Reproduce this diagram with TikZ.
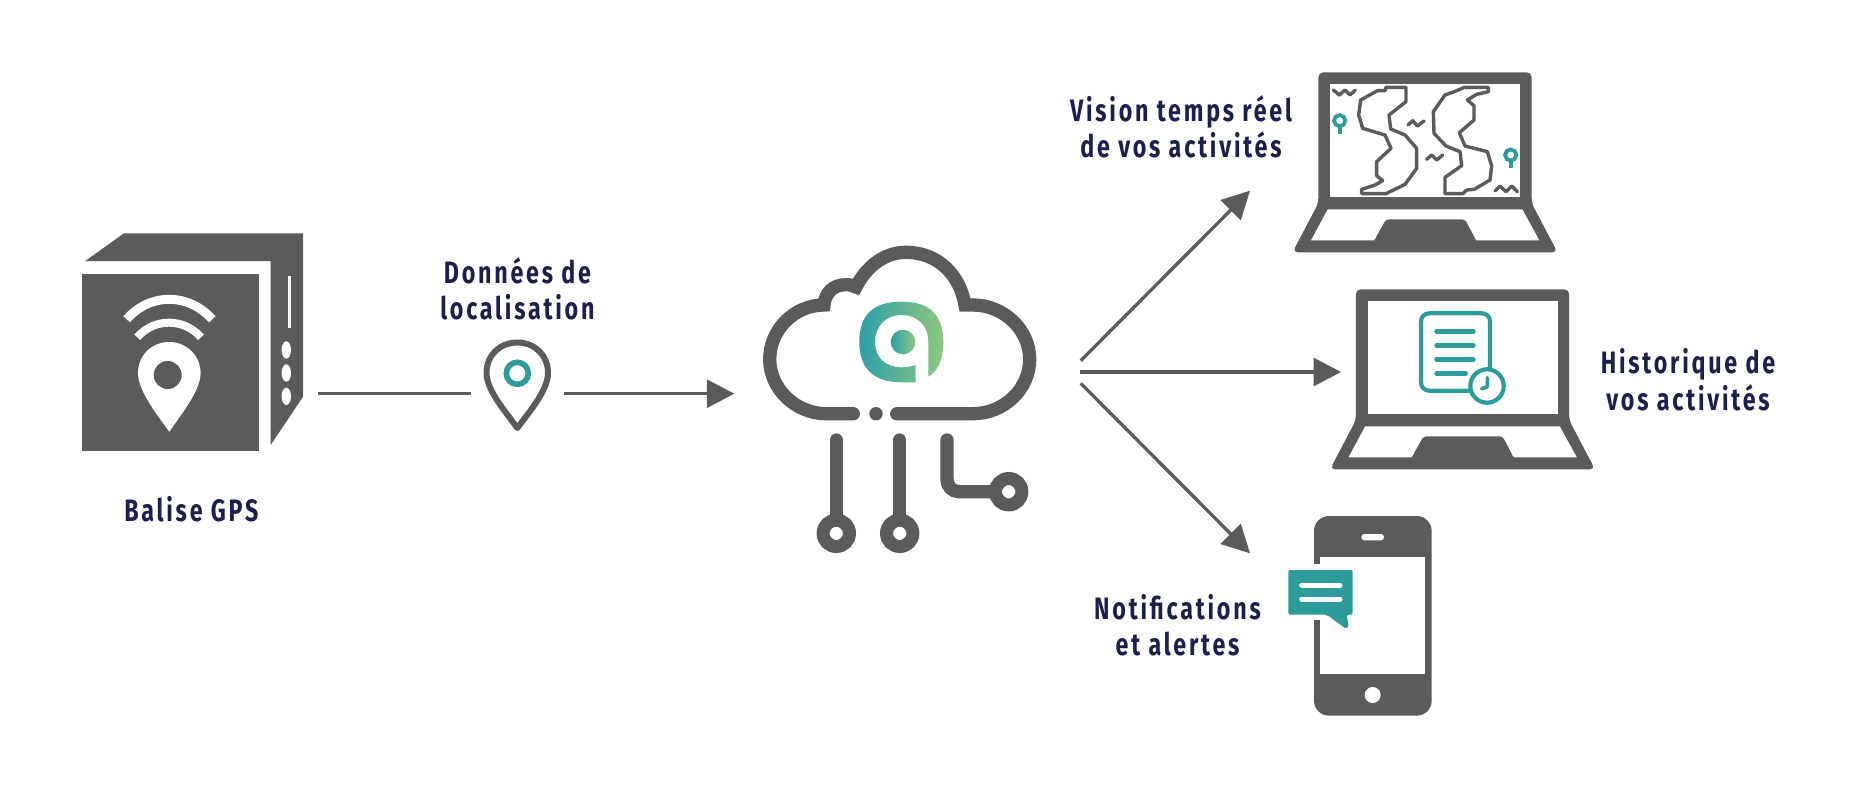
\documentclass[tikz,border=0pt]{standalone}
\usepackage{fontspec}
\usetikzlibrary{arrows.meta}
\newfontfamily\lblfont[FakeStretch=0.75,LetterSpace=9]{Fira Sans}
\definecolor{dark}{HTML}{5B5B5B}
\definecolor{teal2}{HTML}{2E9B9B}
\definecolor{navy}{HTML}{1A1F4D}
\definecolor{logoa}{HTML}{2F9FA8}
\definecolor{logob}{HTML}{8EC77F}
\tikzset{
  lbl/.style={text=navy,align=center,inner sep=0pt,font=\lblfont\bfseries\fontsize{31}{36.6}\selectfont},
  conn/.style={draw=dark,line width=3.3pt},
  connar/.style={conn,-{Triangle[length=27.5pt,width=28pt]}},
  zoomed/.style={x=0.33333pt,y=-0.33333pt},
  cloudline/.style={draw=dark,line width=13.3pt,line cap=round},
  mapline/.style={draw=dark,line width=3.4pt,line join=round},
  zig/.style={draw=dark,line width=3.4pt,line join=round,line cap=round},
  tealpin/.style={draw=teal2,line width=3.8pt},
  docline/.style={draw=teal2,line width=4.7pt,line cap=round},
}
\newcommand{\laptopicon}{%
  \fill[dark,rounded corners=5pt] (1318.3,72.3) -- (1531.7,72.3) -- (1531.7,203.3) -- (1557.5,252.3) -- (1292.5,252.3) -- (1318.3,203.3) -- cycle;
  \fill[white] (1330.3,84) rectangle (1520,197.3);
  \fill[white] (1327.7,209.3) -- (1522.3,209.3) -- (1539.3,240.3) -- (1311,240.3) -- cycle;
  \fill[dark,rounded corners=3pt] (1386,219.3) -- (1465,219.3) -- (1476,240.3) -- (1476,242) -- (1374.3,242) -- (1374.3,240.3) -- cycle;
}
\begin{document}
\begin{tikzpicture}[x=1pt,y=-1pt]
\useasboundingbox (0,0) rectangle (1852,804);
% GPS box
\fill[dark] (124,233.3) -- (303,233.3) -- (303,396.7) -- (270.7,445) -- (270.7,261) -- (85.3,261) -- cycle;
\fill[dark] (82,274) rectangle (259.3,451.3);
\fill[white] (288,276) rectangle (290.7,328);
\foreach \yy in {350,373,396.3} \fill[white] (286.3,\yy) ellipse [x radius=4.7pt,y radius=8.7pt];
\draw[white,line width=9pt] (126.7,319.3) .. controls (150,292.6) and (188,292.6) .. (212.3,319.3);
\draw[white,line width=8pt] (137.3,337.3) .. controls (154,317.8) and (184,317.8) .. (201,337.3);
\fill[white] (169.3,431.7) .. controls (155,412) and (138,390) .. (138,373)
  .. controls (138,355) and (152,342) .. (169.3,342) .. controls (186,342) and (200.6,355) .. (200.6,373)
  .. controls (200.6,390) and (183,412) .. (169.3,431.7) -- cycle;
\fill[dark] (167.7,375) circle [radius=14pt];
\coordinate (boxout) at (318.3,393.7);
% small pin
\draw[dark,line width=6pt,line join=round] (517.3,428) .. controls (505,411) and (486.5,390) .. (486.5,373)
  .. controls (486.5,355) and (500,342.5) .. (517.3,342.5) .. controls (534.5,342.5) and (548,355) .. (548,373)
  .. controls (548,390) and (530,411) .. (517.3,428) -- cycle;
\draw[teal2,line width=5.6pt] (517.3,373.3) circle [radius=11pt];
\coordinate (pinin) at (470.7,393.7);
\coordinate (pinout) at (564,393.7);
\coordinate (cloudin) at (734.3,393.7);
\path[conn] (boxout) -- (pinin);
\path[connar] (pinout) -- (cloudin);
% cloud
\draw[cloudline,line join=miter] (853.3,413.7) -- (826,413.7) .. controls (796,413.7) and (769.7,389) .. (769.7,359.3)
  .. controls (769.7,330) and (794,305) .. (824,305)
  .. controls (825,293) and (833,284.7) .. (846,284.7) .. controls (850,284.7) and (853,285.5) .. (856,287)
  .. controls (866,267) and (884,252.3) .. (906,252.3) .. controls (938,252.3) and (960,275) .. (965,305)
  -- (973,305) .. controls (1004,305) and (1029.7,330) .. (1029.7,359.3)
  .. controls (1029.7,389) and (1004,413.7) .. (973,413.7) -- (896.7,413.7);
\fill[dark] (876,413.7) circle [radius=6.7pt];
\draw[cloudline] (836.3,440) -- (836.3,520);
\draw[cloudline] (899.7,440) -- (899.7,520);
\draw[cloudline,rounded corners=12pt] (947,440) -- (947,491.7) -- (995,491.7);
\foreach \xx/\yy in {836.3/533.3,899.7/533.3,1008.7/491.7}
  \draw[dark,line width=13pt] (\xx,\yy) circle [radius=13.2pt];
% logo
\shade[left color=logoa,right color=logob] (915.7,382.3) -- (901.7,382.3)
  .. controls (873,382.3) and (859.3,368) .. (859.3,342)
  .. controls (859.3,315) and (873,301.7) .. (901.3,301.7)
  .. controls (930,301.7) and (943.3,315) .. (943.3,342)
  .. controls (943.3,360) and (938,371) .. (928.3,376.7)
  -- (928.3,342)
  .. controls (928.3,325) and (917,315) .. (901.7,315)
  .. controls (886,315) and (875,326) .. (875,342)
  .. controls (875,358) and (886,367.3) .. (901.7,367.3)
  .. controls (907,367.3) and (911,366.5) .. (915.7,365) -- cycle;
\shade[left color=logoa,right color=logob] (903,342) circle [radius=12.3pt];
% fan of arrows
\coordinate (fanA) at (1080.7,360.7);
\coordinate (fanB) at (1080,372);
\coordinate (fanC) at (1080.7,383.3);
\coordinate (tipA) at (1250,190.7);
\coordinate (tipB) at (1341,372);
\coordinate (tipC) at (1250,553.3);
\path[connar] (fanA) -- (tipA);
\path[connar] (fanB) -- (tipB);
\path[connar] (fanC) -- (tipC);
% laptop 1
\laptopicon
\begin{scope}[shift={(1280,60)},zoomed]
\draw[mapline] (318,82) -- (378,82) -- (378,125) -- (327,165) -- (332,207) -- (375,225) -- (410,265) -- (410,325) -- (375,373) -- (318,401) -- (245,401) -- (245,388) -- (285,375) -- (308,362) -- (290,347) -- (290,305) -- (333,265) -- (315,225) -- (248,205) -- (236,165) -- (242,120) -- (292,92) -- (315,92) -- cycle;
\draw[mapline] (553,82) -- (625,82) -- (625,95) -- (590,103) -- (562,120) -- (582,137) -- (582,180) -- (538,218) -- (555,258) -- (622,275) -- (635,318) -- (630,360) -- (583,388) -- (560,390) -- (548,401) -- (495,401) -- (495,352) -- (545,317) -- (540,275) -- (498,258) -- (462,220) -- (460,155) -- (495,105) -- (530,92) -- cycle;
\draw[zig] (160,90) -- (178,105) -- (195,90) -- (210,105) -- (226,90);
\draw[zig] (384,195) -- (398,182) -- (412,198) -- (432,183);
\draw[zig] (440,298) -- (455,285) -- (470,300) -- (488,285);
\draw[zig] (645,393) -- (660,378) -- (678,395) -- (695,378) -- (712,395);
\draw[tealpin] (179,182) circle [radius=5.6pt];
\draw[tealpin] (179,199) -- (179,222);
\draw[tealpin] (692,285) circle [radius=5.6pt];
\draw[tealpin] (692,302) -- (692,325);
\end{scope}
% laptop 2
\begin{scope}[shift={(37.5,217)}]
\laptopicon
\end{scope}
\begin{scope}[shift={(1320,280)},zoomed]
\draw[teal2,line width=4.2pt,rounded corners=8pt] (303,100) rectangle (510,332);
\draw[docline] (350,155) -- (460,155);
\draw[docline] (350,196) -- (460,196);
\draw[docline] (350,238) -- (460,238);
\draw[docline] (350,280) -- (437,280);
\filldraw[fill=white,draw=teal2,line width=4.2pt] (501,318) circle [radius=16.7pt];
\draw[teal2,line width=3.6pt,line cap=round,line join=round] (502,293) -- (502,320) -- (485,326);
\end{scope}
% phone
\begin{scope}[shift={(1270,510)},zoomed]
\fill[dark,rounded corners=15pt] (132,18) rectangle (485,617);
\fill[white] (150,142) rectangle (466,493);
\fill[white] (308,555) circle [radius=8pt];
\fill[white,rounded corners=3pt] (274,72) rectangle (342,91);
\fill[white] (125,162) rectangle (150,330);
\fill[teal2,rounded corners=2pt] (55,180) -- (248,180) -- (248,314) -- (230,314) -- (236,350) -- (229,357) -- (170,314) -- (55,314) -- cycle;
\draw[white,line width=5pt,line cap=round] (95,226) -- (210,226);
\draw[white,line width=5pt,line cap=round] (95,267) -- (210,267);
\end{scope}
% labels
\node[lbl] (lbalise) at (191.3,509) {Balise GPS};
\node[lbl] (ldonnees) at (517.4,288.7) {Données de\\localisation};
\node[lbl] (lvision) at (1181,127) {Vision temps réel\\de vos activités};
\node[lbl] (lhist) at (1688,379.5) {Historique de\\vos activités};
\node[lbl] (lnotif) at (1177.5,625.3) {Notifications\\et alertes};
\end{tikzpicture}
\end{document}
